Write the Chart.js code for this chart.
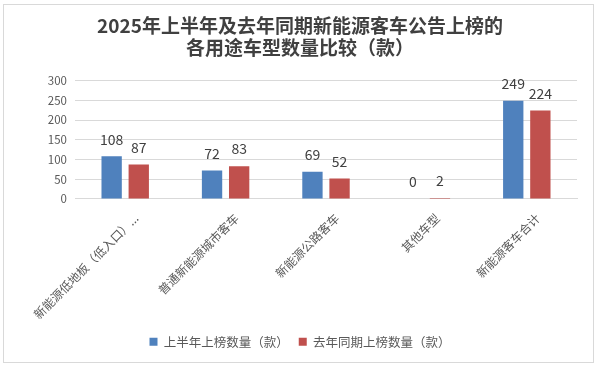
<!DOCTYPE html>
<html>
<head>
<meta charset="utf-8">
<script src="https://cdn.jsdelivr.net/npm/chart.js@4"></script>
<style>
  html, body { margin: 0; padding: 0; background: #fff; }
  #frame { position: absolute; left: 3px; top: 4px; width: 589px; height: 357px; border: 1px solid #d9d9d9; }
  #chart { position: absolute; left: 0; top: 0; }
</style>
</head>
<body>
<div id="frame"></div>
<canvas id="chart" width="600" height="365"></canvas>
<script>
'use strict';

const categories = ['新能源低地板（低入口）...', '普通新能源城市客车', '新能源公路客车', '其他车型', '新能源客车合计'];
const firstHalf2025 = [108, 72, 69, 0, 249];
const samePeriod2024 = [87, 83, 52, 2, 224];
const seriesNames = ['上半年上榜数量（款）', '去年同期上榜数量（款）'];
const yTicks = [0, 50, 100, 150, 200, 250, 300];

const FONT = '"Noto Sans CJK SC", "Noto Sans", sans-serif';

// 柱顶数值
const valueLabels = {
  id: 'valueLabels',
  afterDatasetsDraw(chart) {
    const ctx = chart.ctx;
    ctx.save();
    ctx.font = '14px ' + FONT;
    ctx.fillStyle = '#404040';
    ctx.textAlign = 'center';
    ctx.textBaseline = 'bottom';
    chart.data.datasets.forEach(function (ds, i) {
      chart.getDatasetMeta(i).data.forEach(function (bar, j) {
        ctx.fillText(ds.data[j], bar.x, bar.y - 10);
      });
    });
    ctx.restore();
  }
};

new Chart(document.getElementById('chart').getContext('2d'), {
  type: 'bar',
  data: {
    labels: categories,
    datasets: [{
      label: seriesNames[0],
      data: firstHalf2025,
      backgroundColor: '#4F81BD',
      categoryPercentage: 0.54,
      barPercentage: 0.75
    }, {
      label: seriesNames[1],
      data: samePeriod2024,
      backgroundColor: '#C0504D',
      categoryPercentage: 0.54,
      barPercentage: 0.75
    }]
  },
  options: {
    responsive: false,
    animation: false,
    layout: { padding: { left: 23, right: 23, top: 6, bottom: 7 } },
    scales: {
      y: {
        min: 0,
        max: 300,
        afterBuildTicks: function (axis) {
          axis.ticks = yTicks.map(function (v) { return { value: v }; });
        },
        afterFit: function (axis) { axis.width = 52; },
        grid: { color: '#d9d9d9', drawTicks: false },
        border: { display: false },
        ticks: { color: '#595959', font: { family: FONT, size: 11.5 }, padding: 8 }
      },
      x: {
        grid: { display: false },
        border: { color: '#d9d9d9' },
        ticks: {
          color: '#595959',
          font: { family: FONT, size: 12 },
          minRotation: 45,
          maxRotation: 45,
          autoSkip: false,
          labelOffset: 11,
          padding: 4
        }
      }
    },
    plugins: {
      title: {
        display: true,
        text: ['2025年上半年及去年同期新能源客车公告上榜的', '各用途车型数量比较（款）'],
        color: '#404040',
        font: { family: FONT, size: 19, weight: 'bold', lineHeight: 1.2 },
        padding: { top: 8, bottom: 21 }
      },
      legend: {
        position: 'bottom',
        labels: {
          color: '#595959',
          font: { family: FONT, size: 12.5 },
          boxWidth: 8,
          boxHeight: 8,
          padding: 10
        }
      },
      tooltip: { enabled: false }
    }
  },
  plugins: [valueLabels]
});
</script>
</body>
</html>
